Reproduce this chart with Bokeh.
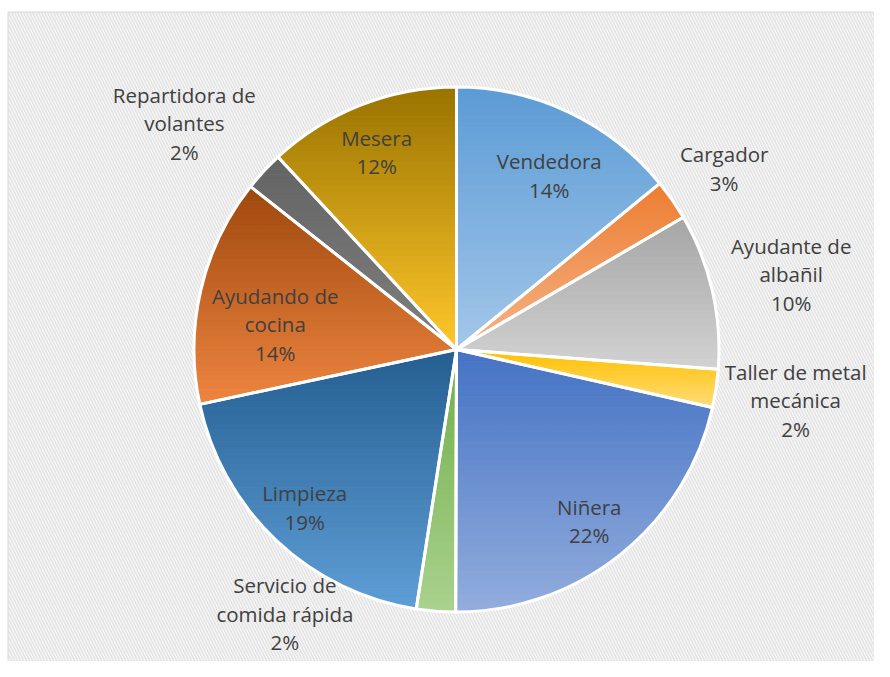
import numpy as np
from bokeh.plotting import figure
from bokeh.models import Range1d, BoxAnnotation, ColumnDataSource
from bokeh.core.properties import value
from bokeh.embed import file_html
from bokeh.resources import INLINE

# ---------------- data ----------------
categories = ["Vendedora", "Cargador", "Ayudante de albañil", "Taller de metal mecánica",
              "Niñera", "Servicio de comida rápida", "Limpieza", "Ayudando de cocina",
              "Repartidora de volantes", "Mesera"]
shares = [14.1, 2.5, 9.6, 2.35, 21.5, 2.4, 19.2, 14.0, 2.45, 11.9]
pct_labels = ["14%", "3%", "10%", "2%", "22%", "2%", "19%", "14%", "2%", "12%"]
label_names = ["Vendedora", "Cargador", "Ayudante de\nalbañil", "Taller de metal\nmecánica",
               "Niñera", "Servicio de\ncomida rápida", "Limpieza", "Ayudando de\ncocina",
               "Repartidora de\nvolantes", "Mesera"]

# ---------------- style ----------------
top_colors = ["#5B9BD5", "#ED7D31", "#A5A5A5", "#FFC000", "#4472C4",
              "#70AD47", "#255E91", "#9E480E", "#636363", "#997300"]
bottom_colors = ["#A3C6E9", "#F5B488", "#D2D2D2", "#FFDC78", "#93ADDD",
                 "#AAD28F", "#5E9ED6", "#EE8540", "#808080", "#FFC72A"]
label_r = [197, 323, 343, 343, 217, 315, 219, 183, 354, 213]
label_dtheta = [2.7, 0.7, 0.3, 0.0, 0.8, 28.5, 0.5, -5.2, -3.0, -0.6]
R = 262.5
FONT = "Open Sans"
FS = 20.5

vals = np.array(shares, dtype=float)
frac = vals / vals.sum()
cum_end = np.cumsum(frac)
cum_start = cum_end - frac
# clockwise from 12 o'clock
start_ang = np.pi / 2 - 2 * np.pi * cum_start
end_ang = np.pi / 2 - 2 * np.pi * cum_end


def hex2rgb(h):
    h = h.lstrip("#")
    return np.array([int(h[i:i + 2], 16) for i in (0, 2, 4)], dtype=float)


def rgb2hex(c):
    c = np.clip(np.round(c), 0, 255).astype(int)
    return "#%02x%02x%02x" % tuple(c)


def clip_poly(pts, y0, keep_above):
    out = []
    n = len(pts)
    for i in range(n):
        a = pts[i]
        b = pts[(i + 1) % n]
        ina = a[1] >= y0 if keep_above else a[1] <= y0
        inb = b[1] >= y0 if keep_above else b[1] <= y0
        if ina:
            out.append(a)
        if ina != inb:
            t = (y0 - a[1]) / (b[1] - a[1])
            out.append((a[0] + t * (b[0] - a[0]), y0))
    return out


band_xs, band_ys, band_cols = [], [], []
NB = 45
for i in range(len(vals)):
    th = np.linspace(start_ang[i], end_ang[i], 120)
    poly = [(0.0, 0.0)] + [(R * np.cos(t), R * np.sin(t)) for t in th]
    ys_all = [p[1] for p in poly]
    ymax, ymin = max(ys_all), min(ys_all)
    edges = np.linspace(ymax, ymin, NB + 1)
    c0, c1 = hex2rgb(top_colors[i]), hex2rgb(bottom_colors[i])
    for k in range(NB):
        hi, lo = edges[k], edges[k + 1]
        pp = clip_poly(poly, lo, True)
        if len(pp) < 3:
            continue
        pp = clip_poly(pp, hi, False)
        if len(pp) < 3:
            continue
        f = (k + 0.5) / NB
        band_xs.append([p[0] for p in pp])
        band_ys.append([p[1] for p in pp])
        band_cols.append(rgb2hex(c0 + (c1 - c0) * f))

# ---------------- figure ----------------
p = figure(width=874, height=661, output_backend="svg", toolbar_location=None,
           x_range=Range1d(-448, 418), y_range=Range1d(-312, 337),
           min_border_left=8, min_border_top=12, min_border_right=0, min_border_bottom=0)
p.axis.visible = False
p.grid.visible = False
p.background_fill_color = "white"
p.border_fill_color = "white"
p.outline_line_color = "#D9D9D9"
p.outline_line_width = 2

p.add_layout(BoxAnnotation(fill_color="white", fill_alpha=1.0, line_color=None,
                           hatch_pattern="left_diagonal_line", hatch_color="#E6E6E6",
                           hatch_scale=6, hatch_weight=2, level="underlay"))

p.patches(xs=band_xs, ys=band_ys, fill_color=band_cols, line_color=band_cols, line_width=1)

src = ColumnDataSource(dict(start=start_ang, end=end_ang))
p.wedge(x=0, y=0, radius=R, start_angle="start", end_angle="end", direction="clock",
        fill_color=None, line_color="white", line_width=3, source=src)

# labels
mid = (cum_start + cum_end) / 2 * 360 + np.array(label_dtheta)
rad = np.deg2rad(mid)
lx = np.array(label_r) * np.sin(rad)
ly = np.array(label_r) * np.cos(rad)
texts = [n + "\n" + pc for n, pc in zip(label_names, pct_labels)]
p.text(x=lx, y=ly, text=texts, text_align="center", text_baseline="middle",
       text_font=value(FONT), text_font_size=f"{FS}px", text_color="#404040",
       text_line_height=1.02)

open("out.html", "w").write(file_html(p, INLINE))
